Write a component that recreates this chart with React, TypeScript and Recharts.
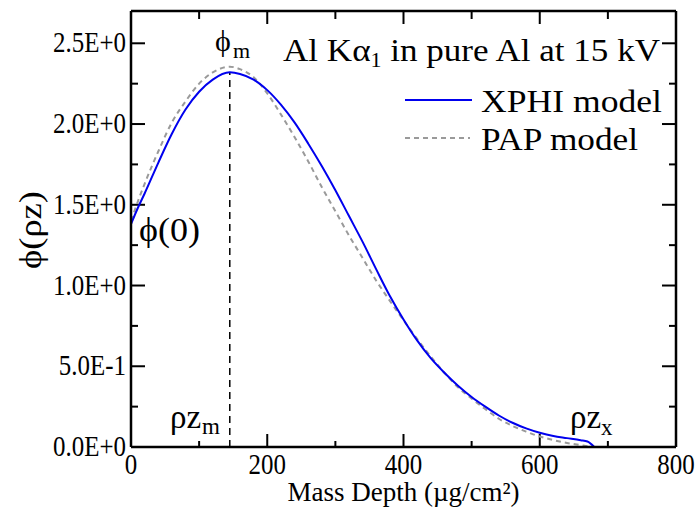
import React from "react";
import { Line, LineChart, ReferenceLine, XAxis, YAxis } from "recharts";

const W = 697;
const H = 510;
const SERIF = "'Liberation Serif', 'Times New Roman', serif";

// mass depth in µg/cm²
const DEPTH = [
  0, 10, 20, 40, 60, 80, 100, 120, 145, 160, 180, 200, 220, 240, 260, 280,
  300, 320, 340, 360, 380, 400, 420, 440, 460, 480, 500, 520, 540, 560, 580,
  600, 620, 640, 660, 670, 680,
];
const XPHI = [
  1.38, 1.48, 1.57, 1.76, 1.94, 2.09, 2.2, 2.275, 2.32, 2.31, 2.275, 2.21,
  2.12, 2.01, 1.88, 1.74, 1.59, 1.43, 1.27, 1.1, 0.935, 0.79, 0.66, 0.55,
  0.46, 0.38, 0.31, 0.25, 0.195, 0.15, 0.115, 0.088, 0.068, 0.055, 0.042,
  0.034, 0,
];
const PAP = [
  1.4, 1.52, 1.63, 1.83, 2.01, 2.14, 2.25, 2.32, 2.355, 2.34, 2.29, 2.19, 2.06,
  1.92, 1.77, 1.61, 1.46, 1.31, 1.17, 1.03, 0.905, 0.785, 0.67, 0.56, 0.46,
  0.37, 0.3, 0.235, 0.175, 0.13, 0.095, 0.065, 0.043, 0.025, 0.012, 0.005, 0,
];

const PEAK_DEPTH = 145;
const PEAK_VALUE = 2.32;

const X_MAJOR = [0, 200, 400, 600, 800];
const X_MINOR = [100, 300, 500, 700];
const Y_MAJOR = [0, 0.5, 1, 1.5, 2, 2.5];
const Y_MINOR = [0.25, 0.75, 1.25, 1.75, 2.25];
const Y_LABELS = ["0.0E+0", "5.0E-1", "1.0E+0", "1.5E+0", "2.0E+0", "2.5E+0"];

const X_MAX = 800;
const Y_MAX = 2.7;

const data = DEPTH.map((d, i) => ({ depth: d, xphi: XPHI[i], pap: PAP[i] }));

const MARGIN = { top: 11, right: 21, bottom: 0, left: 0 };
const Y_AXIS_W = 131;
const X_AXIS_H = 63;
const PLOT_W = W - MARGIN.right - Y_AXIS_W;
const PLOT_H = H - MARGIN.top - X_AXIS_H;

// tick lengths in px, turned into data units so the library scales place them
const toDX = (px: number) => (px * X_MAX) / PLOT_W;
const toDY = (px: number) => (px * Y_MAX) / PLOT_H;

const AXIS = { stroke: "#000", strokeWidth: 2.5 };

type TickProps = { x: number; y: number; payload: { value: number } };

const YLabel = ({ x, y, payload }: TickProps) => {
  const i = Y_MAJOR.indexOf(payload.value);
  return (
    <text
      transform={`translate(${x - 5},${y + 9}) scale(0.86,1)`}
      textAnchor="end"
      fontSize={29}
      fontFamily={SERIF}
      fill="#000"
    >
      {i >= 0 ? Y_LABELS[i] : ""}
    </text>
  );
};

const XLabel = ({ x, y, payload }: TickProps) => (
  <text
    transform={`translate(${x},${y + 26.5}) scale(0.86,1)`}
    textAnchor="middle"
    fontSize={29}
    fontFamily={SERIF}
    fill="#000"
  >
    {payload.value}
  </text>
);

function tickMarks() {
  const out: React.ReactElement[] = [];
  const seg = (key: string, a: { x: number; y: number }, b: { x: number; y: number }) =>
    out.push(
      <ReferenceLine
        key={key}
        segment={[a, b]}
        stroke="#000"
        strokeWidth={2}
        ifOverflow="visible"
      />,
    );
  Y_MAJOR.concat(Y_MINOR).forEach((v) => {
    const len = toDX(Y_MAJOR.includes(v) ? 14 : 7);
    seg(`l${v}`, { x: 0, y: v }, { x: len, y: v });
    seg(`r${v}`, { x: X_MAX - len, y: v }, { x: X_MAX, y: v });
  });
  X_MAJOR.concat(X_MINOR).forEach((v) => {
    const big = X_MAJOR.includes(v);
    seg(`b${v}`, { x: v, y: 0 }, { x: v, y: toDY(big ? 13 : 6) });
    seg(`t${v}`, { x: v, y: Y_MAX - toDY(big ? 13 : 8) }, { x: v, y: Y_MAX });
  });
  return out;
}

const txt = { fontFamily: SERIF, fill: "#000" } as const;

export default function App() {
  return (
    <div
      style={{
        position: "absolute",
        left: 0,
        top: 0,
        width: W,
        height: H,
        background: "#fff",
      }}
    >
      <LineChart width={W} height={H} data={data} margin={MARGIN}>
        <XAxis
          dataKey="depth"
          type="number"
          domain={[0, X_MAX]}
          ticks={X_MAJOR}
          interval={0}
          height={X_AXIS_H}
          tickSize={0}
          tickMargin={0}
          tickLine={false}
          axisLine={AXIS}
          tick={XLabel}
        />
        <YAxis
          type="number"
          domain={[0, Y_MAX]}
          ticks={Y_MAJOR}
          interval={0}
          width={Y_AXIS_W}
          tickSize={0}
          tickMargin={0}
          tickLine={false}
          axisLine={AXIS}
          tick={YLabel}
        />
        <ReferenceLine y={Y_MAX} stroke="#000" strokeWidth={2.5} ifOverflow="visible" />
        <ReferenceLine x={X_MAX} stroke="#000" strokeWidth={2.5} ifOverflow="visible" />
        {tickMarks()}
        <ReferenceLine
          segment={[
            { x: PEAK_DEPTH, y: 0 },
            { x: PEAK_DEPTH, y: PEAK_VALUE },
          ]}
          stroke="#000"
          strokeWidth={1.5}
          strokeDasharray="7 5"
        />
        <Line
          type="monotone"
          dataKey="pap"
          stroke="#9a9a9a"
          strokeWidth={2}
          strokeDasharray="5 4"
          dot={false}
          isAnimationActive={false}
        />
        <Line
          type="monotone"
          dataKey="xphi"
          stroke="#0000ee"
          strokeWidth={2}
          dot={false}
          isAnimationActive={false}
        />
      </LineChart>
      <svg
        width={W}
        height={H}
        style={{ position: "absolute", left: 0, top: 0, pointerEvents: "none" }}
      >
        <text
          {...txt}
          transform="translate(41,230) rotate(-90)"
          textAnchor="middle"
          fontSize={31}
          textLength={78}
          lengthAdjust="spacingAndGlyphs"
        >
          ϕ(ρz)
        </text>
        <text {...txt} x={403.5} y={501} textAnchor="middle" fontSize={27}>
          Mass Depth (µg/cm²)
        </text>
        <text
          {...txt}
          x={283}
          y={61}
          fontSize={32}
          textLength={377}
          lengthAdjust="spacingAndGlyphs"
        >
          Al Kα
          <tspan fontSize={20} dy={6}>
            1
          </tspan>
          <tspan dy={-6}> in pure Al at 15 kV</tspan>
        </text>
        <line x1={405} y1={100} x2={472} y2={100} stroke="#0000ee" strokeWidth={2} />
        <text
          {...txt}
          x={481}
          y={112}
          fontSize={32}
          textLength={181}
          lengthAdjust="spacingAndGlyphs"
        >
          XPHI model
        </text>
        <line
          x1={405}
          y1={138}
          x2={470}
          y2={138}
          stroke="#9a9a9a"
          strokeWidth={2}
          strokeDasharray="5 4"
        />
        <text
          {...txt}
          x={481}
          y={150}
          fontSize={32}
          textLength={157}
          lengthAdjust="spacingAndGlyphs"
        >
          PAP model
        </text>
        <text {...txt} x={215} y={51} fontSize={30}>
          ϕ
        </text>
        <text {...txt} x={233} y={58} fontSize={22}>
          m
        </text>
        <text
          {...txt}
          x={139}
          y={241}
          fontSize={33}
          textLength={61}
          lengthAdjust="spacingAndGlyphs"
        >
          ϕ(0)
        </text>
        <text {...txt} x={170} y={428} fontSize={33}>
          ρz
        </text>
        <text {...txt} x={202} y={434} fontSize={23}>
          m
        </text>
        <text {...txt} x={570} y={428} fontSize={33}>
          ρz
        </text>
        <text {...txt} x={601} y={435} fontSize={23}>
          x
        </text>
      </svg>
    </div>
  );
}
